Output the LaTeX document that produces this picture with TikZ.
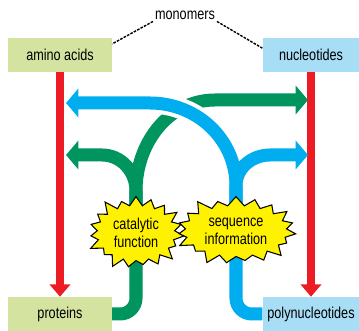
\documentclass[tikz,border=0pt]{standalone}
\usepackage{fontspec}
\setmainfont[FakeStretch=0.8]{Liberation Sans}
\usepackage{xcolor}
\usepackage{tikz}
\usetikzlibrary{positioning,arrows.meta,shapes.symbols,backgrounds}
\definecolor{cred}{HTML}{ED1C24}
\definecolor{cgreen}{HTML}{00945E}
\definecolor{cblue}{HTML}{00AEEF}
\definecolor{cyellow}{HTML}{FFF200}
\definecolor{cgreenbox}{HTML}{D5E3A0}
\definecolor{cbluebox}{HTML}{A8DDF6}
\tikzset{every node/.style={font=\fontsize{9}{10.4}\selectfont}}

\begin{document}
\begin{tikzpicture}[
  x=0.02cm, y=0.02cm,
  box/.style={
    rectangle,
    align=center,
    minimum width=59pt,
    minimum height=19.3pt,
    inner sep=1pt
  },
  burst/.style={
    starburst,
    draw=black,
    fill=cyellow,
    line width=0.6pt,
    align=center,
    starburst points=19,
    starburst point height=7pt,
    inner sep=2.6pt
  },
  redarrow/.style={draw=cred, line width=5pt, -{Triangle[width=11.5pt,length=7pt]}},
  greenflow/.style={draw=cgreen, line width=7.4pt},
  blueflow/.style={draw=cblue, line width=7.4pt},
  flowtip/.style={-{Triangle[width=16pt,length=7pt]}},
  dashline/.style={draw=black, line width=0.8pt, dash pattern=on 1.5pt off 0.7pt}
]
\useasboundingbox (0,0) rectangle (359,331);

\node[box, fill=cgreenbox] (aa) at (60,276) {amino acids};
\node[box, fill=cbluebox, minimum width=55pt] (nt) at (311,276) {nucleotides};
\node[box, fill=cgreenbox] (pr) at (60,17) {proteins};
\node[box, fill=cbluebox, minimum width=55pt] (pn) at (311,17) {polynucleotides};

\node[inner sep=1pt] (mono) at (185,316) {monomers};

\node[burst] (cat) at (136,98) {catalytic\\function};
\node[burst] (seq) at (236,100) {sequence\\information};

\coordinate (gl) at (66,176);
\coordinate (gr) at (308,231);
\coordinate (bl) at (66,228);
\coordinate (br) at (308,176);

\draw[dashline] (mono.south west) -- (aa.12);
\draw[dashline] (mono.south east) -- (nt.172);

\begin{scope}[on background layer]
\draw[redarrow] (aa) -- (pr);
\draw[redarrow] (nt) -- (pn);

% green: proteins -> catalytic function -> both sides
\draw[greenflow, rounded corners=9pt] (pr.east) -| (cat.center);
\draw[greenflow, flowtip] (cat.center) -- (136,140) to[out=90,in=0] (102,176) -- (gl);
\draw[greenflow, flowtip] (cat.center) -- (136,140) to[out=90,in=180] (215,231) -- (gr);

% blue: polynucleotides -> sequence information -> both sides
\draw[white, line width=12pt] (236,145) to[out=90,in=0] (150,228);
\draw[blueflow, rounded corners=9pt] (pn.west) -| (seq.center);
\draw[blueflow, flowtip] (seq.center) -- (236,145) to[out=90,in=0] (150,228) -- (bl);
\draw[blueflow, flowtip] (seq.center) -- (236,145) to[out=90,in=180] (270,176) -- (br);
\end{scope}

\end{tikzpicture}
\end{document}
